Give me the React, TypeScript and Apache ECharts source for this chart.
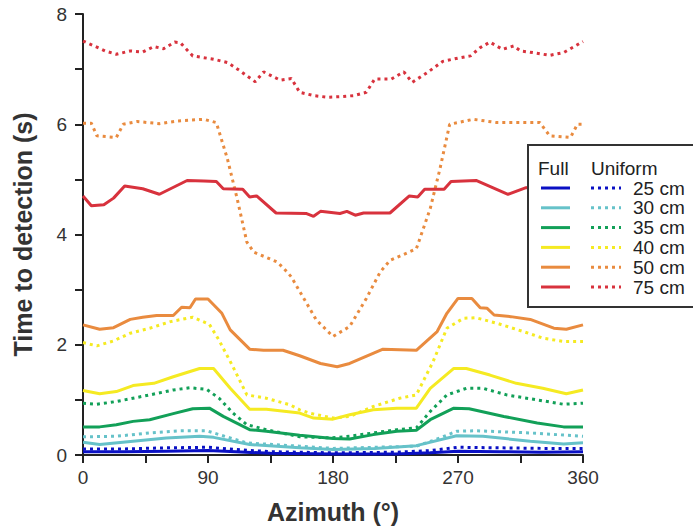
import React, { useEffect, useRef } from "react";
import * as echarts from "echarts";

// Radii of the detection zone and their colours
const SIZES = ["25 cm", "30 cm", "35 cm", "40 cm", "50 cm", "75 cm"];
const COLORS = ["#0a10c4", "#66c2c9", "#12a058", "#f5ea22", "#e98b3f", "#d8323d"];

const X_TICKS = [0, 90, 180, 270, 360];
const Y_TICKS = [0, 2, 4, 6, 8];

// Time to detection (s) against azimuth (deg), full sensor coverage
const full25 = [[0, 0.06], [30, 0.06], [60, 0.07], [90, 0.08], [110, 0.06], [135, 0.03], [180, 0.02], [225, 0.02], [250, 0.04], [270, 0.07], [300, 0.06], [330, 0.05], [360, 0.06]];
const full30 = [[0, 0.23], [12, 0.19], [36, 0.25], [60, 0.31], [84, 0.34], [94, 0.32], [120, 0.19], [156, 0.13], [180, 0.1], [210, 0.12], [240, 0.17], [269, 0.35], [288, 0.34], [322, 0.25], [346, 0.2], [360, 0.22]];
const full35 = [[0, 0.51], [12, 0.51], [24, 0.55], [36, 0.61], [48, 0.64], [65, 0.75], [79, 0.84], [91, 0.85], [101, 0.7], [120, 0.46], [132, 0.43], [156, 0.36], [180, 0.3], [192, 0.29], [209, 0.37], [226, 0.43], [240, 0.45], [250, 0.64], [267, 0.85], [278, 0.84], [303, 0.7], [327, 0.58], [346, 0.51], [360, 0.51]];
const full40 = [[0, 1.17], [12, 1.11], [24, 1.15], [36, 1.26], [51, 1.3], [65, 1.42], [84, 1.57], [94, 1.57], [106, 1.21], [120, 0.83], [132, 0.83], [156, 0.76], [166, 0.67], [180, 0.65], [192, 0.73], [209, 0.82], [226, 0.85], [240, 0.85], [250, 1.21], [267, 1.57], [276, 1.57], [293, 1.45], [312, 1.3], [331, 1.21], [348, 1.11], [360, 1.18]];
const full50 = [[0, 2.36], [12, 2.28], [22, 2.31], [34, 2.46], [43, 2.5], [53, 2.53], [65, 2.53], [71, 2.68], [77, 2.67], [81, 2.83], [90, 2.83], [100, 2.57], [106, 2.27], [112, 2.12], [120, 1.92], [130, 1.9], [144, 1.9], [156, 1.8], [171, 1.66], [183, 1.6], [192, 1.66], [216, 1.92], [240, 1.9], [255, 2.24], [262, 2.57], [270, 2.84], [280, 2.84], [286, 2.67], [291, 2.66], [296, 2.54], [308, 2.51], [322, 2.46], [339, 2.3], [348, 2.28], [360, 2.36]];
const full75 = [[0, 4.7], [6, 4.52], [15, 4.54], [22, 4.66], [30, 4.88], [43, 4.83], [55, 4.73], [75, 4.98], [87, 4.97], [96, 4.96], [101, 4.83], [115, 4.82], [120, 4.68], [125, 4.7], [139, 4.39], [161, 4.38], [166, 4.33], [171, 4.42], [185, 4.38], [190, 4.42], [196, 4.35], [202, 4.39], [221, 4.39], [235, 4.7], [241, 4.68], [246, 4.82], [260, 4.82], [265, 4.96], [283, 4.98], [306, 4.73], [319, 4.85], [330, 4.88], [345, 4.6], [354, 4.52], [360, 4.7]];

// Time to detection (s) against azimuth (deg), uniform sensor coverage
const uniform25 = [[0, 0.11], [30, 0.11], [60, 0.13], [90, 0.14], [110, 0.1], [135, 0.06], [180, 0.04], [225, 0.05], [250, 0.08], [270, 0.14], [300, 0.13], [330, 0.12], [360, 0.12]];
const uniform30 = [[0, 0.33], [24, 0.34], [48, 0.4], [70, 0.44], [89, 0.44], [98, 0.37], [118, 0.22], [156, 0.16], [180, 0.12], [210, 0.14], [240, 0.16], [254, 0.28], [269, 0.43], [283, 0.44], [322, 0.4], [360, 0.34]];
const uniform35 = [[0, 0.94], [10, 0.92], [24, 0.97], [48, 1.09], [65, 1.18], [77, 1.22], [89, 1.19], [98, 1.03], [108, 0.76], [118, 0.55], [132, 0.46], [156, 0.33], [178, 0.31], [192, 0.34], [209, 0.4], [226, 0.46], [240, 0.49], [250, 0.79], [262, 1.09], [276, 1.21], [288, 1.21], [305, 1.09], [327, 1.0], [346, 0.92], [360, 0.94]];
const uniform40 = [[0, 2.04], [10, 1.98], [22, 2.07], [34, 2.21], [48, 2.3], [63, 2.42], [79, 2.5], [91, 2.37], [98, 2.08], [108, 1.6], [118, 1.09], [132, 1.03], [149, 0.91], [156, 0.82], [163, 0.76], [180, 0.67], [192, 0.7], [209, 0.88], [228, 1.03], [240, 1.09], [252, 1.69], [262, 2.3], [274, 2.48], [283, 2.49], [298, 2.39], [317, 2.24], [331, 2.12], [346, 2.06], [360, 2.06]];
const uniform50 = [[0, 6.02], [6, 6.02], [10, 5.79], [24, 5.76], [29, 6.0], [39, 6.05], [55, 6.01], [68, 6.06], [87, 6.09], [96, 6.03], [104, 5.37], [111, 4.65], [118, 3.86], [123, 3.68], [140, 3.5], [147, 3.32], [150, 3.23], [159, 2.84], [168, 2.45], [180, 2.15], [192, 2.33], [204, 2.84], [214, 3.32], [221, 3.53], [240, 3.74], [250, 4.47], [257, 5.19], [264, 6.0], [281, 6.09], [298, 6.03], [329, 6.03], [336, 5.79], [351, 5.76], [356, 6.0], [360, 6.0]];
const uniform75 = [[0, 7.51], [8, 7.42], [16, 7.33], [24, 7.27], [34, 7.33], [43, 7.31], [51, 7.41], [58, 7.37], [66, 7.49], [70, 7.48], [79, 7.24], [94, 7.18], [104, 7.12], [113, 6.97], [124, 6.77], [130, 6.95], [142, 6.8], [150, 6.83], [156, 6.58], [166, 6.52], [176, 6.49], [185, 6.5], [195, 6.52], [204, 6.58], [210, 6.82], [222, 6.82], [231, 6.95], [237, 6.76], [248, 6.94], [259, 7.14], [270, 7.2], [279, 7.24], [286, 7.39], [293, 7.49], [302, 7.36], [310, 7.42], [315, 7.33], [324, 7.3], [336, 7.25], [346, 7.3], [360, 7.5]];

const FULL = [full25, full30, full35, full40, full50, full75];
const UNIFORM = [uniform25, uniform30, uniform35, uniform40, uniform50, uniform75];

const FONT = "'Liberation Sans', Arial, Helvetica, sans-serif";
const DOT: number[] = [3, 4];

export default function App() {
  const ref = useRef<HTMLDivElement>(null);

  useEffect(() => {
    if (!ref.current) return;
    const chart = echarts.init(ref.current, undefined, { renderer: "svg" });

    const series: any[] = [];
    for (let i = SIZES.length - 1; i >= 0; i--) {
      series.push({
        name: "Uniform " + SIZES[i],
        type: "line",
        data: UNIFORM[i],
        showSymbol: false,
        symbol: "none",
        lineStyle: { color: COLORS[i], width: 3, type: DOT },
        z: 2,
      });
      series.push({
        name: "Full " + SIZES[i],
        type: "line",
        data: FULL[i],
        showSymbol: false,
        symbol: "none",
        lineStyle: { color: COLORS[i], width: 3, type: "solid" },
        z: 3,
      });
    }

    // Two-column key: solid = full, dotted = uniform
    const Z = 100;
    const boxX = 528;
    const boxY = 145;
    const rowY0 = 188;
    const rowStep = 19.8;
    const keyItems: any[] = [
      {
        type: "rect",
        z: Z,
        shape: { x: boxX, y: boxY, width: 200, height: 162 },
        style: { fill: "#fff", stroke: "#333", lineWidth: 2 },
      },
      {
        type: "text",
        z: Z + 1,
        x: 538,
        y: 168,
        style: { text: "Full", font: `19px ${FONT}`, fill: "#222", verticalAlign: "middle" },
      },
      {
        type: "text",
        z: Z + 1,
        x: 591,
        y: 168,
        style: { text: "Uniform", font: `19px ${FONT}`, fill: "#222", verticalAlign: "middle" },
      },
    ];
    SIZES.forEach((s, i) => {
      const y = rowY0 + i * rowStep;
      keyItems.push({
        type: "line",
        z: Z + 1,
        shape: { x1: 541, y1: y, x2: 570, y2: y },
        style: { stroke: COLORS[i], lineWidth: 3 },
      });
      keyItems.push({
        type: "line",
        z: Z + 1,
        shape: { x1: 591, y1: y, x2: 621, y2: y },
        style: { stroke: COLORS[i], lineWidth: 3, lineDash: DOT },
      });
      keyItems.push({
        type: "text",
        z: Z + 1,
        x: 633,
        y: y,
        style: { text: s, font: `19px ${FONT}`, fill: "#222", verticalAlign: "middle" },
      });
    });

    chart.setOption({
      animation: false,
      backgroundColor: "#fff",
      grid: { left: 83, right: 110, top: 14, bottom: 72, containLabel: false },
      xAxis: {
        type: "value",
        min: 0,
        max: 360,
        interval: 45,
        name: "Azimuth (°)",
        nameLocation: "middle",
        nameGap: 44,
        nameTextStyle: { fontSize: 25, fontWeight: "bold", color: "#333", fontFamily: FONT },
        axisLine: { show: true, lineStyle: { color: "#222", width: 2 } },
        axisTick: { show: true, inside: false, length: 8, lineStyle: { color: "#222", width: 2 } },
        axisLabel: {
          fontSize: 19,
          color: "#333",
          fontFamily: FONT,
          margin: 13,
          formatter: (v: number) => (X_TICKS.includes(v) ? String(v) : ""),
        },
        splitLine: { show: false },
      },
      yAxis: {
        type: "value",
        min: 0,
        max: 8,
        interval: 1,
        name: "Time to detection (s)",
        nameLocation: "middle",
        nameGap: 48,
        nameTextStyle: { fontSize: 25, fontWeight: "bold", color: "#333", fontFamily: FONT },
        axisLine: { show: true, lineStyle: { color: "#222", width: 2 } },
        axisTick: { show: true, inside: false, length: 8, lineStyle: { color: "#222", width: 2 } },
        axisLabel: {
          fontSize: 19,
          color: "#333",
          fontFamily: FONT,
          margin: 16,
          formatter: (v: number) => (Y_TICKS.includes(v) ? String(v) : ""),
        },
        splitLine: { show: false },
      },
      series,
      graphic: {
        elements: [{ type: "group", z: Z, zlevel: 1, children: keyItems }],
      },
    });

    return () => chart.dispose();
  }, []);

  return (
    <div
      ref={ref}
      style={{ position: "absolute", left: 0, top: 0, width: 693, height: 529 }}
    />
  );
}
